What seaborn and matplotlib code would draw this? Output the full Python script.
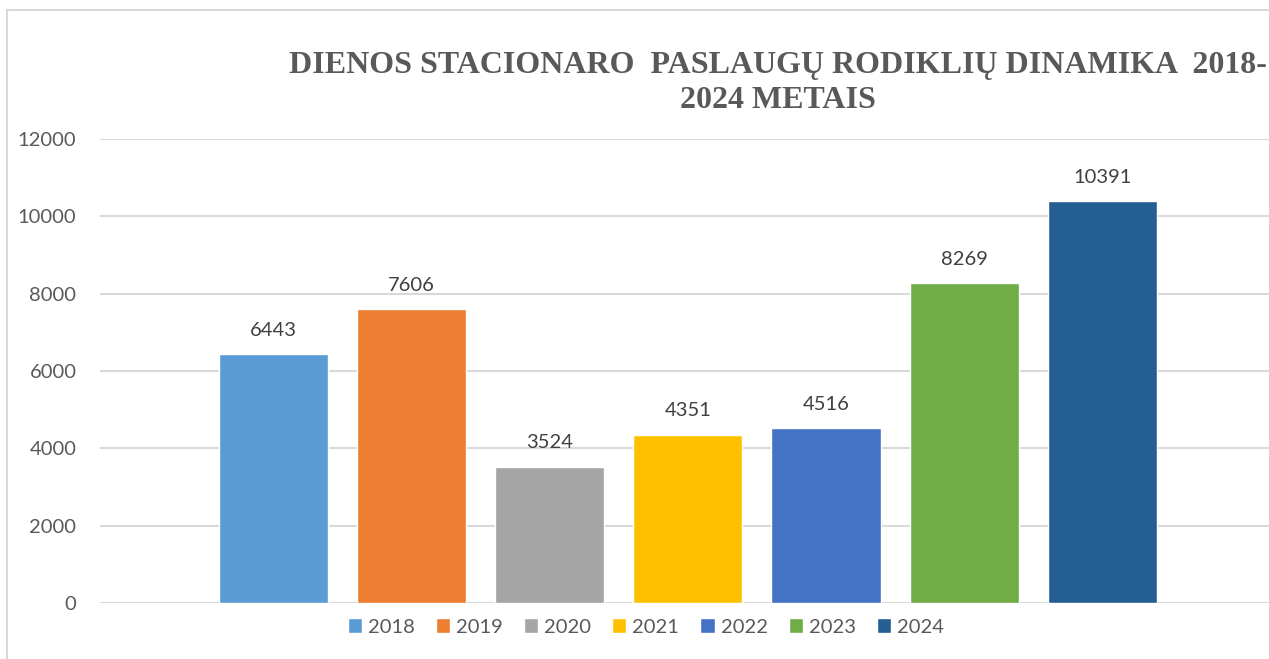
import matplotlib
matplotlib.use("Agg")
import matplotlib.pyplot as plt
import matplotlib.patches as mpatches
import seaborn as sns
import pandas as pd

years = ["2018", "2019", "2020", "2021", "2022", "2023", "2024"]
values = [6443, 7606, 3524, 4351, 4516, 8269, 10391]
colors = ["#5B9BD5", "#ED7D31", "#A5A5A5", "#FFC000", "#4472C4", "#70AD47", "#255E91"]
yticks = [0, 2000, 4000, 6000, 8000, 10000, 12000]
title = "DIENOS STACIONARO  PASLAUGŲ RODIKLIŲ DINAMIKA  2018-\n2024 METAIS"

sns.set_style("white")
plt.rcParams["font.family"] = ["Lato", "DejaVu Sans"]

W, H = 1269, 659
fig = plt.figure(figsize=(W / 100, H / 100), dpi=100)
ax = fig.add_axes([100 / W, (H - 603) / H, (W - 100) / W + 0.01, (603 - 139) / H])

df = pd.DataFrame({"year": years, "value": values})
sns.barplot(data=df, x="year", y="value", hue="year", palette=colors,
            width=0.79, dodge=False, saturation=1, legend=True, ax=ax)

ax.set_ylim(0, 12000)
ax.set_xlim(-1.257, 7.3)
ax.set_yticks(yticks)
ax.set_yticklabels([str(v) for v in yticks])
ax.set_xticks([])
ax.set_xlabel("")
ax.set_ylabel("")
ax.yaxis.grid(True, color="#D9D9D9", linewidth=1.5)
ax.set_axisbelow(True)
for s in ax.spines.values():
    s.set_visible(False)
ax.tick_params(axis="y", length=0, pad=17, labelsize=14.5, labelcolor="#595959")

for cont in ax.containers:
    ax.bar_label(cont, labels=[f"{int(v)}" for v in cont.datavalues],
                 padding=11, fontsize=14.5, color="#404040")

handles, labels = ax.get_legend_handles_labels()
ax.legend(handles, labels, loc="center", bbox_to_anchor=(646 / W, (H - 627) / H),
          bbox_transform=fig.transFigure, ncol=7, frameon=False,
          fontsize=14.5, labelcolor="#595959", handlelength=0.7, handleheight=0.7,
          handletextpad=0.3, columnspacing=1.05, borderpad=0)

fig.text(778 / W, (H - 83) / H, title, ha="center", va="center",
         family="Liberation Serif", fontweight="bold", fontsize=23,
         color="#595959", linespacing=1.3)

border = mpatches.Rectangle((7 / W, -0.05), 1.1, (H - 10) / H + 0.05,
                            transform=fig.transFigure, fill=False,
                            edgecolor="#D9D9D9", linewidth=1.5)
fig.add_artist(border)

fig.savefig("out.png", dpi=100)
